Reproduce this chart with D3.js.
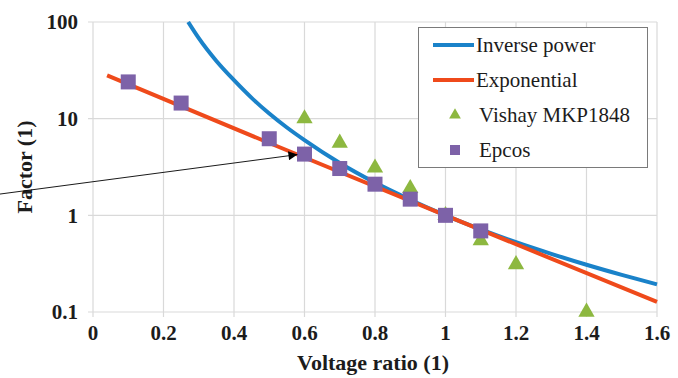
<!DOCTYPE html>
<html><head><meta charset="utf-8">
<script src="https://cdn.jsdelivr.net/npm/d3@7"></script>
<style>body{margin:0;background:#fff}svg{display:block}</style>
</head><body>
<svg id="c" width="678" height="378"></svg>
<script>
// ---- data ----
const xTicks = [0, 0.2, 0.4, 0.6, 0.8, 1, 1.2, 1.4, 1.6];
const yTicks = [0.1, 1, 10, 100];
const yTickLabels = ["0.1", "1", "10", "100"];

const inverseX = [0.27, 0.3, 0.35, 0.4, 0.45, 0.5, 0.55, 0.6, 0.7, 0.8, 0.9, 1.0, 1.1, 1.2, 1.3, 1.4, 1.5, 1.6];
const inverseY = [100, 68, 39.5, 25, 16.4, 11.3, 8.1, 6.0, 3.48, 2.18, 1.45, 1.0, 0.716, 0.528, 0.40, 0.308, 0.242, 0.193];

const expX = [0.04, 0.5, 1.0, 1.6];
const expY = [28, 5.6, 1.0, 0.127];

const vishayX = [0.6, 0.7, 0.8, 0.9, 1.0, 1.1, 1.2, 1.4];
const vishayY = [10, 5.6, 3.1, 1.9, 1.0, 0.55, 0.31, 0.1];

const epcosX = [0.1, 0.25, 0.5, 0.6, 0.7, 0.8, 0.9, 1.0, 1.1];
const epcosY = [24, 14.5, 6.2, 4.3, 3.05, 2.1, 1.47, 1.0, 0.69];

const legendLabels = ["Inverse power", "Exponential", "Vishay MKP1848", "Epcos"];
const arrowFrom = [-0.264, 1.66];
const arrowTo = [0.58, 4.25];

// ---- chart ----
const svg = d3.select("#c");
const L = 93, R = 657, T = 22, B = 312;
const x = d3.scaleLinear().domain([0, 1.6]).range([L, R]);
const y = d3.scaleLog().domain([0.1, 100]).range([B, T]);
const font = "'Liberation Serif', 'Times New Roman', serif";
const blue = "#1a82c9", red = "#ef4a1b", green = "#8db840", purple = "#7d62a8";
const ink = "#1c1c1c";

// gridlines
const g = svg.append("g");
g.selectAll("line.v").data(xTicks).join("line").attr("class", "v")
  .attr("x1", d => x(d)).attr("x2", d => x(d)).attr("y1", T).attr("y2", B + 5)
  .attr("stroke", "#d9d9d9").attr("stroke-width", 1.2);
g.selectAll("line.h").data(yTicks).join("line").attr("class", "h")
  .attr("x1", L - 5).attr("x2", R).attr("y1", d => y(d)).attr("y2", d => y(d))
  .attr("stroke", "#d9d9d9").attr("stroke-width", 1.2);

// tick labels
svg.append("g").selectAll("text").data(xTicks).join("text")
  .attr("x", d => x(d)).attr("y", 340)
  .attr("text-anchor", "middle").style("font-family", font).style("font-weight", "bold")
  .style("font-size", "21px").attr("fill", ink).text(d => String(d));
svg.append("g").selectAll("text").data(yTicks).join("text")
  .attr("x", 78).attr("y", d => y(d)).attr("dy", "0.35em")
  .attr("text-anchor", "end").style("font-family", font).style("font-weight", "bold")
  .style("font-size", "21px").attr("fill", ink).text((d, i) => yTickLabels[i]);

// axis titles
svg.append("text").attr("x", 373).attr("y", 370).attr("text-anchor", "middle")
  .style("font-family", font).style("font-weight", "bold").style("font-size", "22px")
  .attr("fill", ink).text("Voltage ratio (1)");
svg.append("text").attr("transform", "translate(32,167) rotate(-90)").attr("text-anchor", "middle")
  .style("font-family", font).style("font-weight", "bold").style("font-size", "22px")
  .attr("fill", ink).text("Factor (1)");

// clip
svg.append("clipPath").attr("id", "clip").append("rect")
  .attr("x", L).attr("y", T - 1).attr("width", R - L + 2).attr("height", B - T + 2);

const curve = d3.line().x(d => x(d[0])).y(d => y(d[1])).curve(d3.curveMonotoneX);
const straight = d3.line().x(d => x(d[0])).y(d => y(d[1]));
const inv = inverseX.map((v, i) => [v, inverseY[i]]);
const ex = expX.map((v, i) => [v, expY[i]]);

const lines = svg.append("g").attr("clip-path", "url(#clip)");
lines.append("path").datum(inv).attr("d", curve).attr("fill", "none")
  .attr("stroke", blue).attr("stroke-width", 4);
lines.append("path").datum(ex).attr("d", straight)
  .attr("fill", "none").attr("stroke", red).attr("stroke-width", 4);

// markers
const tri = d3.symbol().type(d3.symbolTriangle).size(115);
svg.append("g").selectAll("path").data(vishayX.map((v, i) => [v, vishayY[i]])).join("path")
  .attr("d", tri).attr("transform", d => `translate(${x(d[0])},${y(d[1])})`)
  .attr("fill", green);
svg.append("g").selectAll("rect").data(epcosX.map((v, i) => [v, epcosY[i]])).join("rect")
  .attr("x", d => x(d[0]) - 7.5).attr("y", d => y(d[1]) - 7.5)
  .attr("width", 15).attr("height", 15).attr("fill", purple);

// arrow annotation
svg.append("defs").append("marker").attr("id", "ah").attr("viewBox", "0 0 10 10")
  .attr("refX", 10).attr("refY", 5).attr("markerWidth", 12).attr("markerHeight", 9)
  .attr("markerUnits", "userSpaceOnUse").attr("orient", "auto")
  .append("path").attr("d", "M0,0 L10,5 L0,10 Z").attr("fill", "#000");
svg.append("line").attr("x1", x(arrowFrom[0])).attr("y1", y(arrowFrom[1]))
  .attr("x2", x(arrowTo[0])).attr("y2", y(arrowTo[1]))
  .attr("stroke", "#000").attr("stroke-width", 0.9).attr("marker-end", "url(#ah)");

// legend
const lg = svg.append("g");
lg.append("rect").attr("x", 418.5).attr("y", 27.5).attr("width", 229).attr("height", 140)
  .attr("fill", "#fff").attr("stroke", "#7a7a7a").attr("stroke-width", 1);
const rowsY = [45, 80, 115, 150];
lg.append("line").attr("x1", 433).attr("x2", 474).attr("y1", rowsY[0]).attr("y2", rowsY[0])
  .attr("stroke", blue).attr("stroke-width", 4);
lg.append("line").attr("x1", 433).attr("x2", 474).attr("y1", rowsY[1]).attr("y2", rowsY[1])
  .attr("stroke", red).attr("stroke-width", 4);
lg.append("path").attr("d", d3.symbol().type(d3.symbolTriangle).size(60))
  .attr("transform", `translate(455,${rowsY[2]})`).attr("fill", green);
lg.append("rect").attr("x", 450).attr("y", rowsY[3] - 5).attr("width", 10).attr("height", 10).attr("fill", purple);
lg.append("g").selectAll("text").data(legendLabels).join("text")
  .attr("x", (d, i) => i < 2 ? 476 : 479)
  .attr("y", (d, i) => rowsY[i]).attr("dy", "0.33em")
  .style("font-family", font).style("font-size", "21px").attr("fill", ink).text(d => d);
</script>
</body></html>
